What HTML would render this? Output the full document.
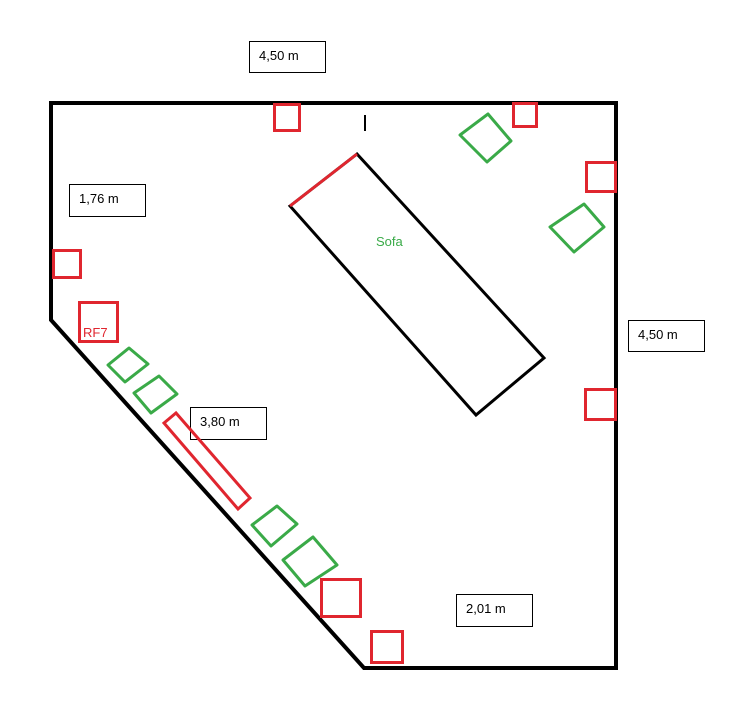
<!DOCTYPE html>
<html><head><meta charset="utf-8"><style>
html,body{margin:0;padding:0;background:#fff;width:732px;height:716px;overflow:hidden}
svg{display:block}
text{font-family:"Liberation Sans",sans-serif;font-size:13px}
</style></head><body>
<svg width="732" height="716" viewBox="0 0 732 716" xmlns="http://www.w3.org/2000/svg">
<rect x="0" y="0" width="732" height="716" fill="#fff"/>
<!-- labels -->
<g fill="#fff" stroke="#000" stroke-width="1">
<rect x="249.5" y="41.5" width="76" height="31"/>
<rect x="69.5" y="184.5" width="76" height="32"/>
<rect x="628.5" y="320.5" width="76" height="31"/>
<rect x="190.5" y="407.5" width="76" height="32"/>
<rect x="456.5" y="594.5" width="76" height="32"/>
</g>
<g fill="#000">
<text x="259" y="60">4,50 m</text>
<text x="79" y="203">1,76 m</text>
<text x="638" y="339">4,50 m</text>
<text x="200" y="426">3,80 m</text>
<text x="466" y="613">2,01 m</text>
</g>
<!-- room -->
<polygon points="51,103 616,103 616,668 364,668 51,320" fill="none" stroke="#000" stroke-width="4" stroke-linejoin="miter"/>
<line x1="365" y1="115" x2="365" y2="131" stroke="#000" stroke-width="2"/>
<!-- sofa -->
<polygon points="290,206 357,154 544,358 476,415" fill="none" stroke="#000" stroke-width="3"/>
<line x1="290" y1="206" x2="357" y2="154" stroke="#e0262f" stroke-width="3"/>
<text x="376" y="246" fill="#3aaa48">Sofa</text>
<!-- red squares -->
<g fill="none" stroke="#e0262f" stroke-width="3">
<rect x="274.5" y="104.5" width="25" height="26"/>
<rect x="513.5" y="103.5" width="23" height="23"/>
<rect x="586.5" y="162.5" width="29" height="29"/>
<rect x="53.5" y="250.5" width="27" height="27"/>
<rect x="79.5" y="302.5" width="38" height="39"/>
<rect x="585.5" y="389.5" width="30" height="30"/>
<rect x="321.5" y="579.5" width="39" height="37"/>
<rect x="371.5" y="631.5" width="31" height="31"/>
<polygon points="164,423 176,413 250,498 238,509"/>
</g>
<text x="83" y="337" fill="#e0262f">RF7</text>
<!-- green squares -->
<g fill="none" stroke="#3aaa48" stroke-width="3" stroke-linejoin="round">
<polygon points="460,135 488,114 511,141 487,162"/>
<polygon points="550,227 584,204 604,227 574,252"/>
<polygon points="108,365 129,348 148,364 125,382"/>
<polygon points="134,393 159,376 177,394 151,413"/>
<polygon points="252,525 277,506 297,524 271,546"/>
<polygon points="283,560 313,537 337,565 305,586"/>
</g>
</svg>
</body></html>
